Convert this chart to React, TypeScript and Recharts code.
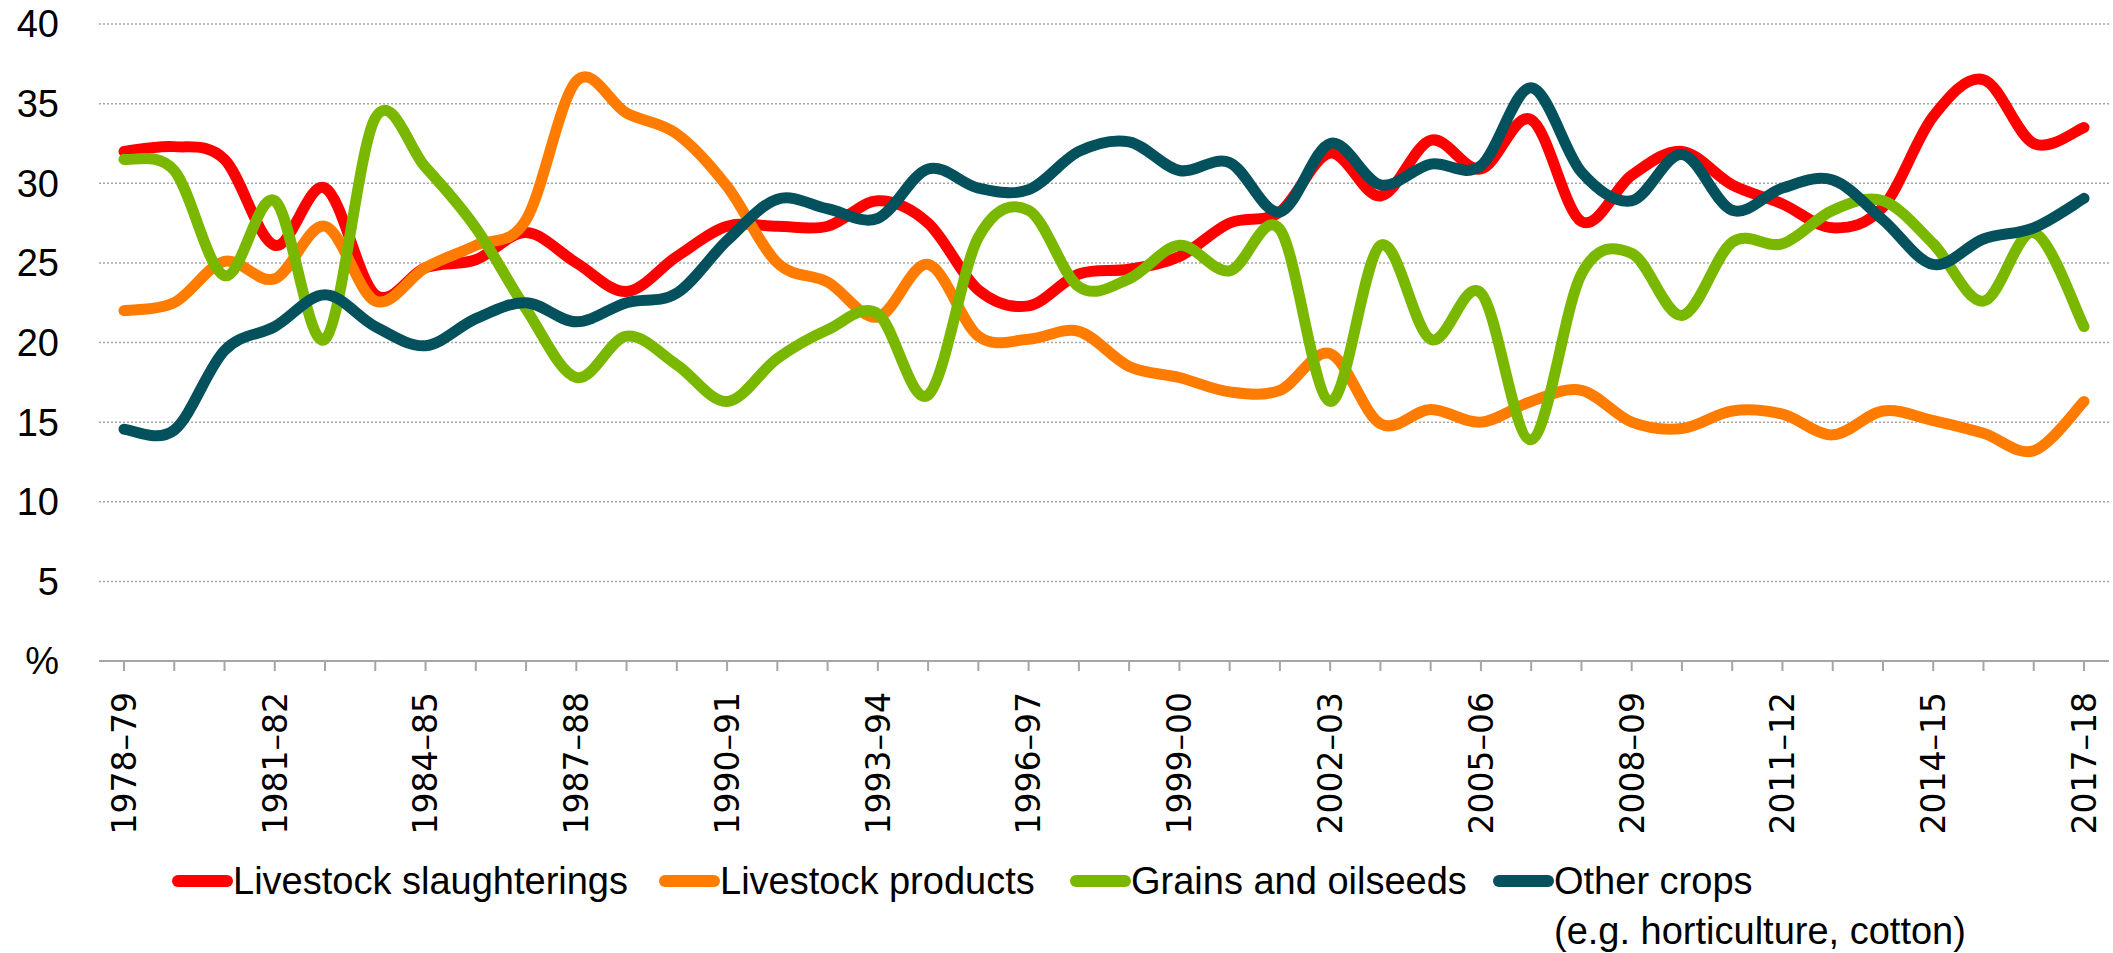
import React from 'react';
import { LineChart, Line, XAxis, YAxis, CartesianGrid } from 'recharts';

// financial years shown on the x axis
const years = [
  '1978–79', '1979–80', '1980–81', '1981–82', '1982–83', '1983–84', '1984–85', '1985–86',
  '1986–87', '1987–88', '1988–89', '1989–90', '1990–91', '1991–92', '1992–93', '1993–94',
  '1994–95', '1995–96', '1996–97', '1997–98', '1998–99', '1999–00', '2000–01', '2001–02',
  '2002–03', '2003–04', '2004–05', '2005–06', '2006–07', '2007–08', '2008–09', '2009–10',
  '2010–11', '2011–12', '2012–13', '2013–14', '2014–15', '2015–16', '2016–17', '2017–18'
];

// share of gross value, %
const slaughterings = [
  32.0, 32.3, 31.5, 26.1, 29.7, 23.0, 24.7, 25.2, 26.9, 25.0, 23.2, 25.4, 27.3, 27.3, 27.3, 28.9,
  27.5, 23.3, 22.3, 24.3, 24.6, 25.4, 27.5, 28.2, 31.9, 29.2, 32.7, 30.9, 34.0, 27.6, 30.5, 32.0,
  29.9, 28.7, 27.2, 28.5, 34.2, 36.5, 32.5, 33.5
];
const products = [
  22.0, 22.5, 25.1, 24.0, 27.3, 22.6, 24.7, 26.1, 27.7, 36.4, 34.4, 33.1, 29.8, 25.0, 23.8, 21.6,
  24.9, 20.4, 20.2, 20.7, 18.5, 17.8, 16.9, 17.0, 19.3, 14.9, 15.8, 15.0, 16.3, 17.0, 15.0, 14.6,
  15.7, 15.5, 14.2, 15.7, 15.1, 14.3, 13.2, 16.3
];
const grains = [
  31.5, 30.8, 24.2, 28.9, 20.2, 34.1, 31.0, 27.2, 22.1, 17.8, 20.4, 18.6, 16.3, 19.0, 20.8, 21.8,
  16.7, 26.6, 28.3, 23.5, 24.0, 26.1, 24.5, 27.1, 16.3, 26.1, 20.2, 23.1, 13.9, 24.3, 25.6, 21.7,
  26.3, 26.2, 28.3, 28.9, 26.2, 22.6, 26.9, 21.0
];
const otherCrops = [
  14.55, 14.5, 19.5, 21.0, 23.0, 21.0, 19.8, 21.5, 22.5, 21.3, 22.5, 23.1, 26.4, 29.0, 28.4, 27.8,
  30.9, 29.7, 29.6, 32.0, 32.6, 30.8, 31.3, 28.2, 32.5, 29.9, 31.2, 31.1, 36.0, 30.7, 28.9, 31.8,
  28.3, 29.7, 30.2, 27.7, 24.9, 26.5, 27.2, 29.05
];

const yTicks = [0, 5, 10, 15, 20, 25, 30, 35, 40];

const series = [
  { key: 'slaughterings', name: 'Livestock slaughterings', color: '#ff0000' },
  { key: 'products', name: 'Livestock products', color: '#ff7c00' },
  { key: 'grains', name: 'Grains and oilseeds', color: '#7ab800' },
  { key: 'other', name: 'Other crops', color: '#02515c' }
];

const data = years.map((year, i) => ({
  year,
  slaughterings: slaughterings[i],
  products: products[i],
  grains: grains[i],
  other: otherCrops[i]
}));

// Excel-like smoothing (uniform Catmull-Rom as cubic beziers)
const smoothCurve = (context: any) => {
  let pts: number[][] = [];
  return {
    areaStart() {},
    areaEnd() {},
    lineStart() { pts = []; },
    point(x: number, y: number) { pts.push([+x, +y]); },
    lineEnd() {
      const n = pts.length;
      if (!n) return;
      context.moveTo(pts[0][0], pts[0][1]);
      for (let i = 0; i < n - 1; i++) {
        const p0 = pts[i - 1] || pts[i];
        const p1 = pts[i];
        const p2 = pts[i + 1];
        const p3 = pts[i + 2] || p2;
        context.bezierCurveTo(
          p1[0] + (p2[0] - p0[0]) / 6, p1[1] + (p2[1] - p0[1]) / 6,
          p2[0] - (p3[0] - p1[0]) / 6, p2[1] - (p3[1] - p1[1]) / 6,
          p2[0], p2[1]
        );
      }
    }
  };
};

const XTick = (props: any) => {
  const { x, y, payload, index } = props;
  if (index % 3 !== 0) return null;
  return (
    <text
      x={x}
      y={y}
      transform={`rotate(-90, ${x}, ${y})`}
      textAnchor="end"
      dy="0.36em"
      fontFamily="DejaVu Sans"
      fontSize={33}
      fill="#000"
    >
      {payload.value}
    </text>
  );
};

const legendItems = [
  { ...series[0], swatch: 172 },
  { ...series[1], swatch: 659 },
  { ...series[2], swatch: 1070 },
  { ...series[3], swatch: 1493 }
];

const ChartLegend = () => (
  <svg width={2113} height={953} style={{ position: 'absolute', left: 0, top: 0, pointerEvents: 'none' }}>
    {legendItems.map((item) => (
      <g key={item.key}>
        <line x1={item.swatch + 6} x2={item.swatch + 55} y1={881} y2={881} stroke={item.color} strokeWidth={12} strokeLinecap="round" />
        <text x={item.swatch + 61} y={894} fontFamily="Liberation Sans" fontSize={38} fill="#000">
          {item.name}
        </text>
      </g>
    ))}
    <text x={1554} y={944} fontFamily="Liberation Sans" fontSize={38} fill="#000">
      (e.g. horticulture, cotton)
    </text>
  </svg>
);

export default function App() {
  return (
    <div style={{ position: 'absolute', left: 0, top: 0, width: 2113, height: 953, background: '#fff' }}>
      <LineChart width={2113} height={953} data={data} margin={{ top: 24, right: 4, left: 0, bottom: 0 }}>
        <CartesianGrid vertical={false} stroke="#a6a6a6" strokeWidth={1.5} strokeDasharray="2 2" />
        <XAxis
          dataKey="year"
          interval={0}
          height={292}
          padding={{ left: 25, right: 25 }}
          axisLine={{ stroke: '#a6a6a6', strokeWidth: 2 }}
          tickLine={{ stroke: '#a6a6a6', strokeWidth: 2 }}
          tickSize={10}
          tickMargin={21}
          tick={<XTick />}
        />
        <YAxis
          width={99}
          domain={[0, 40]}
          ticks={yTicks}
          axisLine={false}
          tickLine={false}
          tickSize={0}
          tickMargin={40}
          tickFormatter={(v: number) => (v === 0 ? '%' : String(v))}
          tick={{ fontFamily: 'Liberation Sans', fontSize: 38, fill: '#000' }}
        />
        {series.map((s) => (
          <Line
            key={s.key}
            dataKey={s.key}
            name={s.name}
            type={smoothCurve as any}
            stroke={s.color}
            strokeWidth={11}
            strokeLinecap="round"
            strokeLinejoin="round"
            dot={false}
            activeDot={false}
            isAnimationActive={false}
          />
        ))}
      </LineChart>
      <ChartLegend />
    </div>
  );
}
